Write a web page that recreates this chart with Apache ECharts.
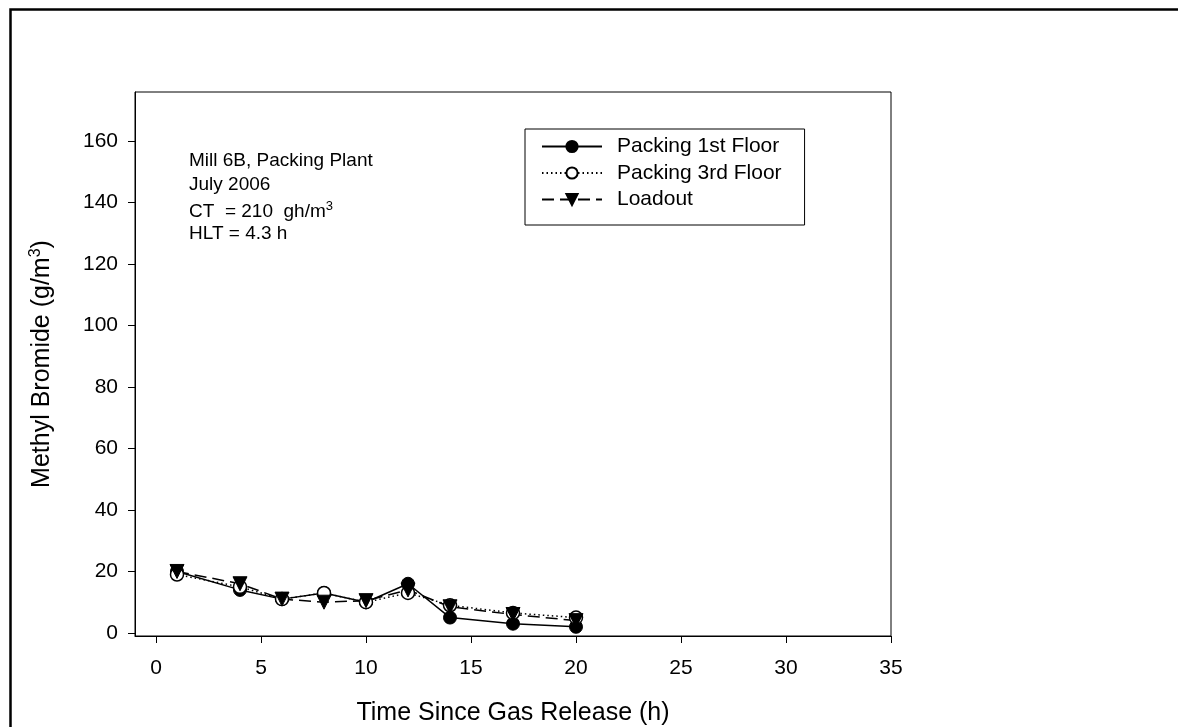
<!DOCTYPE html>
<html>
<head>
<meta charset="utf-8">
<script src="https://cdn.jsdelivr.net/npm/echarts@6/dist/echarts.min.js"></script>
<style>html,body{margin:0;padding:0;background:#fff;}#c{width:1178px;height:727px;}</style>
</head>
<body>
<div id="c"></div>
<script>
var time = [1, 4, 6, 8, 10, 12, 14, 17, 20];
var floor1 = [20, 14, 11, 13, 10, 16, 5, 3, 2];
var floor3 = [19, 15, 11, 13, 10, 13, 9, 6.5, 5];
var loadout = [20, 16, 11, 10, 10.5, 14, 8.5, 6, 4];
var xTicks = [0, 5, 10, 15, 20, 25, 30, 35];
var yTicks = [0, 20, 40, 60, 80, 100, 120, 140, 160];
var seriesNames = ['Packing 1st Floor', 'Packing 3rd Floor', 'Loadout'];
var notes = ['Mill 6B, Packing Plant', 'July 2006', 'CT  = 210  gh/m{sup|3}', 'HLT = 4.3 h'];

function pairs(xs, ys) { return xs.map(function (x, i) { return [x, ys[i]]; }); }

var FONT = 'Liberation Sans, Arial, sans-serif';
var chart = echarts.init(document.getElementById('c'));
var noteGraphics = notes.map(function (t, i) {
  return {
    type: 'text', left: 189, top: 151 + i * 24.5,
    style: { text: t, font: '19px ' + FONT, fill: '#000',
      rich: { sup: { fontSize: 13, fontFamily: FONT, padding: [0, 0, 10, 0] } } }
  };
});
chart.setOption({
  animation: false,
  backgroundColor: '#fff',
  grid: { left: 135, top: 92, right: 287, bottom: 91, show: true, borderColor: '#000', borderWidth: 1,
    containLabel: false, outerBoundsMode: 'none' },
  xAxis: {
    type: 'value', min: -1, max: 35,
    name: 'Time Since Gas Release (h)', nameLocation: 'middle', nameGap: 65,
    nameTextStyle: { fontFamily: FONT, fontSize: 25, color: '#000' },
    axisLine: { onZero: false, lineStyle: { color: '#000', width: 1 } },
    axisTick: { show: true, inside: false, length: 7, customValues: xTicks, lineStyle: { color: '#000' } },
    axisLabel: { customValues: xTicks, fontFamily: FONT, fontSize: 21, color: '#000', margin: 22 },
    splitLine: { show: false }
  },
  yAxis: {
    type: 'value', min: -1, max: 176,
    name: 'Methyl Bromide (g/m{sup|3})', nameLocation: 'middle', nameGap: 79, nameRotate: 90,
    nameTextStyle: { fontFamily: FONT, fontSize: 25, color: '#000',
      rich: { sup: { fontSize: 16, fontFamily: FONT, color: '#000', padding: [0, 0, 12, 0] } } },
    axisLine: { show: true, onZero: false, lineStyle: { color: '#000', width: 1 } },
    axisTick: { show: true, inside: false, length: 7, customValues: yTicks, lineStyle: { color: '#000' } },
    axisLabel: { customValues: yTicks, fontFamily: FONT, fontSize: 21, color: '#000', margin: 17 },
    splitLine: { show: false }
  },
  legend: {
    orient: 'vertical', left: 525, top: 129,
    data: seriesNames,
    itemWidth: 60, itemHeight: 14, itemGap: 5.5,
    padding: [7, 23, 15, 16],
    borderColor: '#000', borderWidth: 1,
    textStyle: { fontFamily: FONT, fontSize: 21, color: '#000', lineHeight: 21, padding: [0, 0, 0, 10] }
  },
  series: [
    { name: seriesNames[0], type: 'line', data: pairs(time, floor1),
      symbol: 'circle', symbolSize: 13,
      lineStyle: { color: '#000', width: 1.5, type: 'solid' },
      itemStyle: { color: '#000', borderColor: '#000', borderWidth: 1 } },
    { name: seriesNames[1], type: 'line', data: pairs(time, floor3),
      symbol: 'circle', symbolSize: 13,
      lineStyle: { color: '#000', width: 1.5, type: [1.5, 3] },
      itemStyle: { color: '#fff', borderColor: '#000', borderWidth: 1.5 } },
    { name: seriesNames[2], type: 'line', data: pairs(time, loadout),
      symbol: 'triangle', symbolRotate: 180, symbolSize: 14,
      lineStyle: { color: '#000', width: 1.5, type: [12, 6] },
      itemStyle: { color: '#000', borderColor: '#000', borderWidth: 1 } }
  ],
  graphic: [
    { type: 'rect', left: 8, top: 7, shape: { x: 0, y: 0, width: 1300, height: 900 },
      style: { fill: null, stroke: '#000', lineWidth: 2.5 }, silent: true }
  ].concat(noteGraphics)
});
</script>
</body>
</html>
